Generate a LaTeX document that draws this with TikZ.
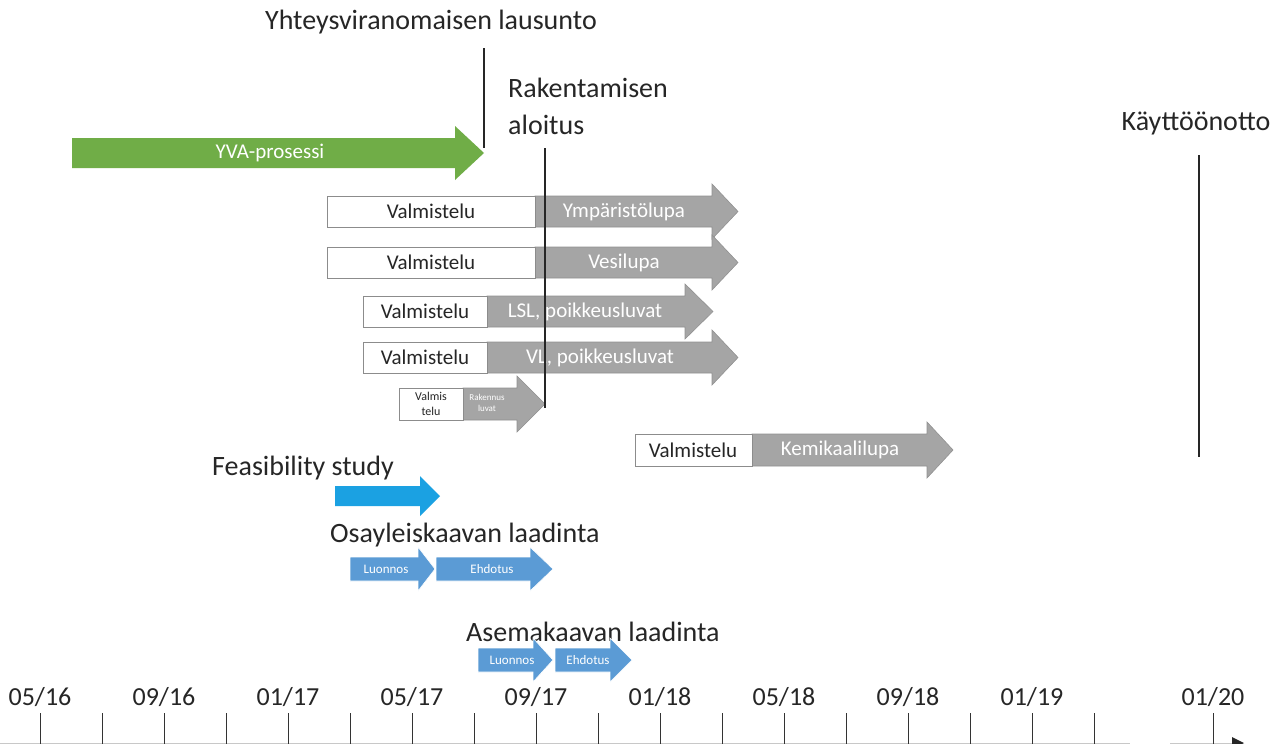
\documentclass[tikz,border=0pt]{standalone}
\usepackage{fontspec}
\setmainfont{Carlito}
\definecolor{yvagreen}{RGB}{112,173,71}
\definecolor{pgray}{RGB}{165,165,165}
\definecolor{pgrayline}{RGB}{145,145,145}
\definecolor{fblue}{RGB}{27,161,226}
\definecolor{lblue}{RGB}{91,155,213}
\definecolor{boxline}{RGB}{140,140,140}
\definecolor{axisgray}{RGB}{200,200,200}
% style, x0, x-head, x-tip, y-centre, body half height, head half height
\newcommand{\blockarr}[7]{\path[#1] (#2,{#5-#6}) -- (#3,{#5-#6}) -- (#3,{#5-#7}) -- (#4,#5) -- (#3,{#5+#7}) -- (#3,{#5+#6}) -- (#2,{#5+#6}) -- cycle;}
\begin{document}
\begin{tikzpicture}[x=1pt,y=-1pt,
  lbl/.style={inner sep=0pt, font=\fontsize{28}{32}\selectfont, text=black!85},
  axlbl/.style={inner sep=0pt, font=\fontsize{26}{30}\selectfont, text=black!85},
  valbox/.style={draw=boxline, line width=1pt, fill=white},
  valtxt/.style={inner sep=0pt, font=\fontsize{21}{24}\selectfont, text=black!85},
  graytxt/.style={inner sep=0pt, font=\fontsize{21}{24}\selectfont, text=white},
  smalltxt/.style={inner sep=0pt, font=\fontsize{13}{15}\selectfont, text=white},
  grayarr/.style={fill=pgray, draw=pgrayline, line width=0.6pt},
  greenarr/.style={fill=yvagreen},
  fbluearr/.style={fill=fblue},
  lbluearr/.style={fill=lblue, draw=white, line width=0.6pt},
  vline/.style={draw=black!85, line width=1.1pt},
  tick/.style={draw=black!80, line width=1pt}]
\useasboundingbox (0,0) rectangle (1286,744);
\fill[white] (0,0) rectangle (1286,744);

% titles
\node[lbl] (yht) at (431,22) {Yhteysviranomaisen lausunto};
\node[lbl, anchor=west] (rak1) at (508,88) {Rakentamisen};
\node[lbl, anchor=west] (rak2) at (508,125) {aloitus};
\node[lbl] (kay) at (1196,123) {Käyttöönotto};

% YVA arrow
\blockarr{greenarr}{72}{455}{484}{153}{15}{27}
\node[valtxt, text=white] (yva) at (270,153) {YVA-prosessi};

% gray permit rows
\blockarr{grayarr}{535}{712}{738}{211.5}{15.5}{27.5}
\draw[valbox] (327,196) rectangle (535,227);
\node[valtxt] (v1) at (431,211.5) {Valmistelu};
\node[graytxt] (p1) at (624,211.5) {Ympäristölupa};

\blockarr{grayarr}{535}{712}{738}{262.5}{15.5}{27.5}
\draw[valbox] (327,247) rectangle (535,278);
\node[valtxt] (v2) at (431,262.5) {Valmistelu};
\node[graytxt] (p2) at (624,262.5) {Vesilupa};

\blockarr{grayarr}{487}{685}{713}{311.5}{15.5}{27.5}
\draw[valbox] (363,296) rectangle (487,327);
\node[valtxt] (v3) at (425,311.5) {Valmistelu};
\node[graytxt] (p3) at (585,311.5) {LSL, poikkeusluvat};

\blockarr{grayarr}{487}{712}{738}{357.5}{15.5}{27.5}
\draw[valbox] (363,342) rectangle (487,373);
\node[valtxt] (v4) at (425,357.5) {Valmistelu};
\node[graytxt] (p4) at (600,357.5) {VL, poikkeusluvat};

\blockarr{grayarr}{463}{517}{545}{404}{16}{28}
\draw[valbox] (399,388) rectangle (463,420);
\node[valtxt, align=center, font=\fontsize{12}{15}\selectfont] (v5) at (431,404) {Valmis\\telu};
\node[smalltxt, align=center, font=\fontsize{9}{11}\selectfont] (p5) at (487,403) {Rakennus\\luvat};

\blockarr{grayarr}{752}{927}{953}{450}{16}{28}
\draw[valbox] (635,434) rectangle (752,466);
\node[valtxt] (v6) at (693,450) {Valmistelu};
\node[graytxt] (p6) at (840,450) {Kemikaalilupa};

% Feasibility
\node[lbl, anchor=west] (feas) at (212,468) {Feasibility study};
\blockarr{fbluearr}{335}{420}{440}{496}{10}{20}

% Osayleiskaava
\node[lbl, anchor=west] (osa) at (330,535) {Osayleiskaavan laadinta};
\blockarr{lbluearr}{350}{418}{435}{569}{12}{22}
\blockarr{lbluearr}{436}{530}{553}{569}{12}{22}
\node[smalltxt] (ol) at (386,569) {Luonnos};
\node[smalltxt] (oe) at (492,569) {Ehdotus};

% Asemakaava
\node[lbl, anchor=west] (ase) at (466,632) {Asemakaavan laadinta};
\blockarr{lbluearr}{478}{533}{553}{660}{12}{22}
\blockarr{lbluearr}{555}{610}{632}{660}{12}{22}
\node[smalltxt] (al) at (512,660) {Luonnos};
\node[smalltxt] (ae) at (588,660) {Ehdotus};

% milestone lines
\coordinate (m1a) at (484,48); \coordinate (m1b) at (484,148);
\coordinate (m2a) at (545,148); \coordinate (m2b) at (545,408);
\coordinate (m3a) at (1199,155); \coordinate (m3b) at (1199,457);
\draw[vline] (m1a) -- (m1b);
\draw[vline] (m2a) -- (m2b);
\draw[vline] (m3a) -- (m3b);

% time axis
\coordinate (ax0) at (0,743); \coordinate (ax1) at (1130,743);
\coordinate (ax2) at (1170,743); \coordinate (ax3) at (1242,743);
\draw[axisgray, line width=1pt] (ax0) -- (ax1);
\draw[axisgray, line width=1pt] (ax2) -- (ax3);
\fill[black!85] (1232,737) -- (1244,743) -- (1232,749) -- cycle;
\foreach \k in {0,...,17} {\draw[tick] ({40+62*\k},713) -- ({40+62*\k},744);}
\draw[tick] (1213,713) -- (1213,744);
\foreach \k/\t in {0/05\slash16,2/09\slash16,4/01\slash17,6/05\slash17,8/09\slash17,10/01\slash18,12/05\slash18,14/09\slash18,16/01\slash19} {\node[axlbl] (d\k) at ({40+62*\k},697) {\t};}
\node[axlbl] (d20) at (1213,697) {01/20};
\end{tikzpicture}
\end{document}
